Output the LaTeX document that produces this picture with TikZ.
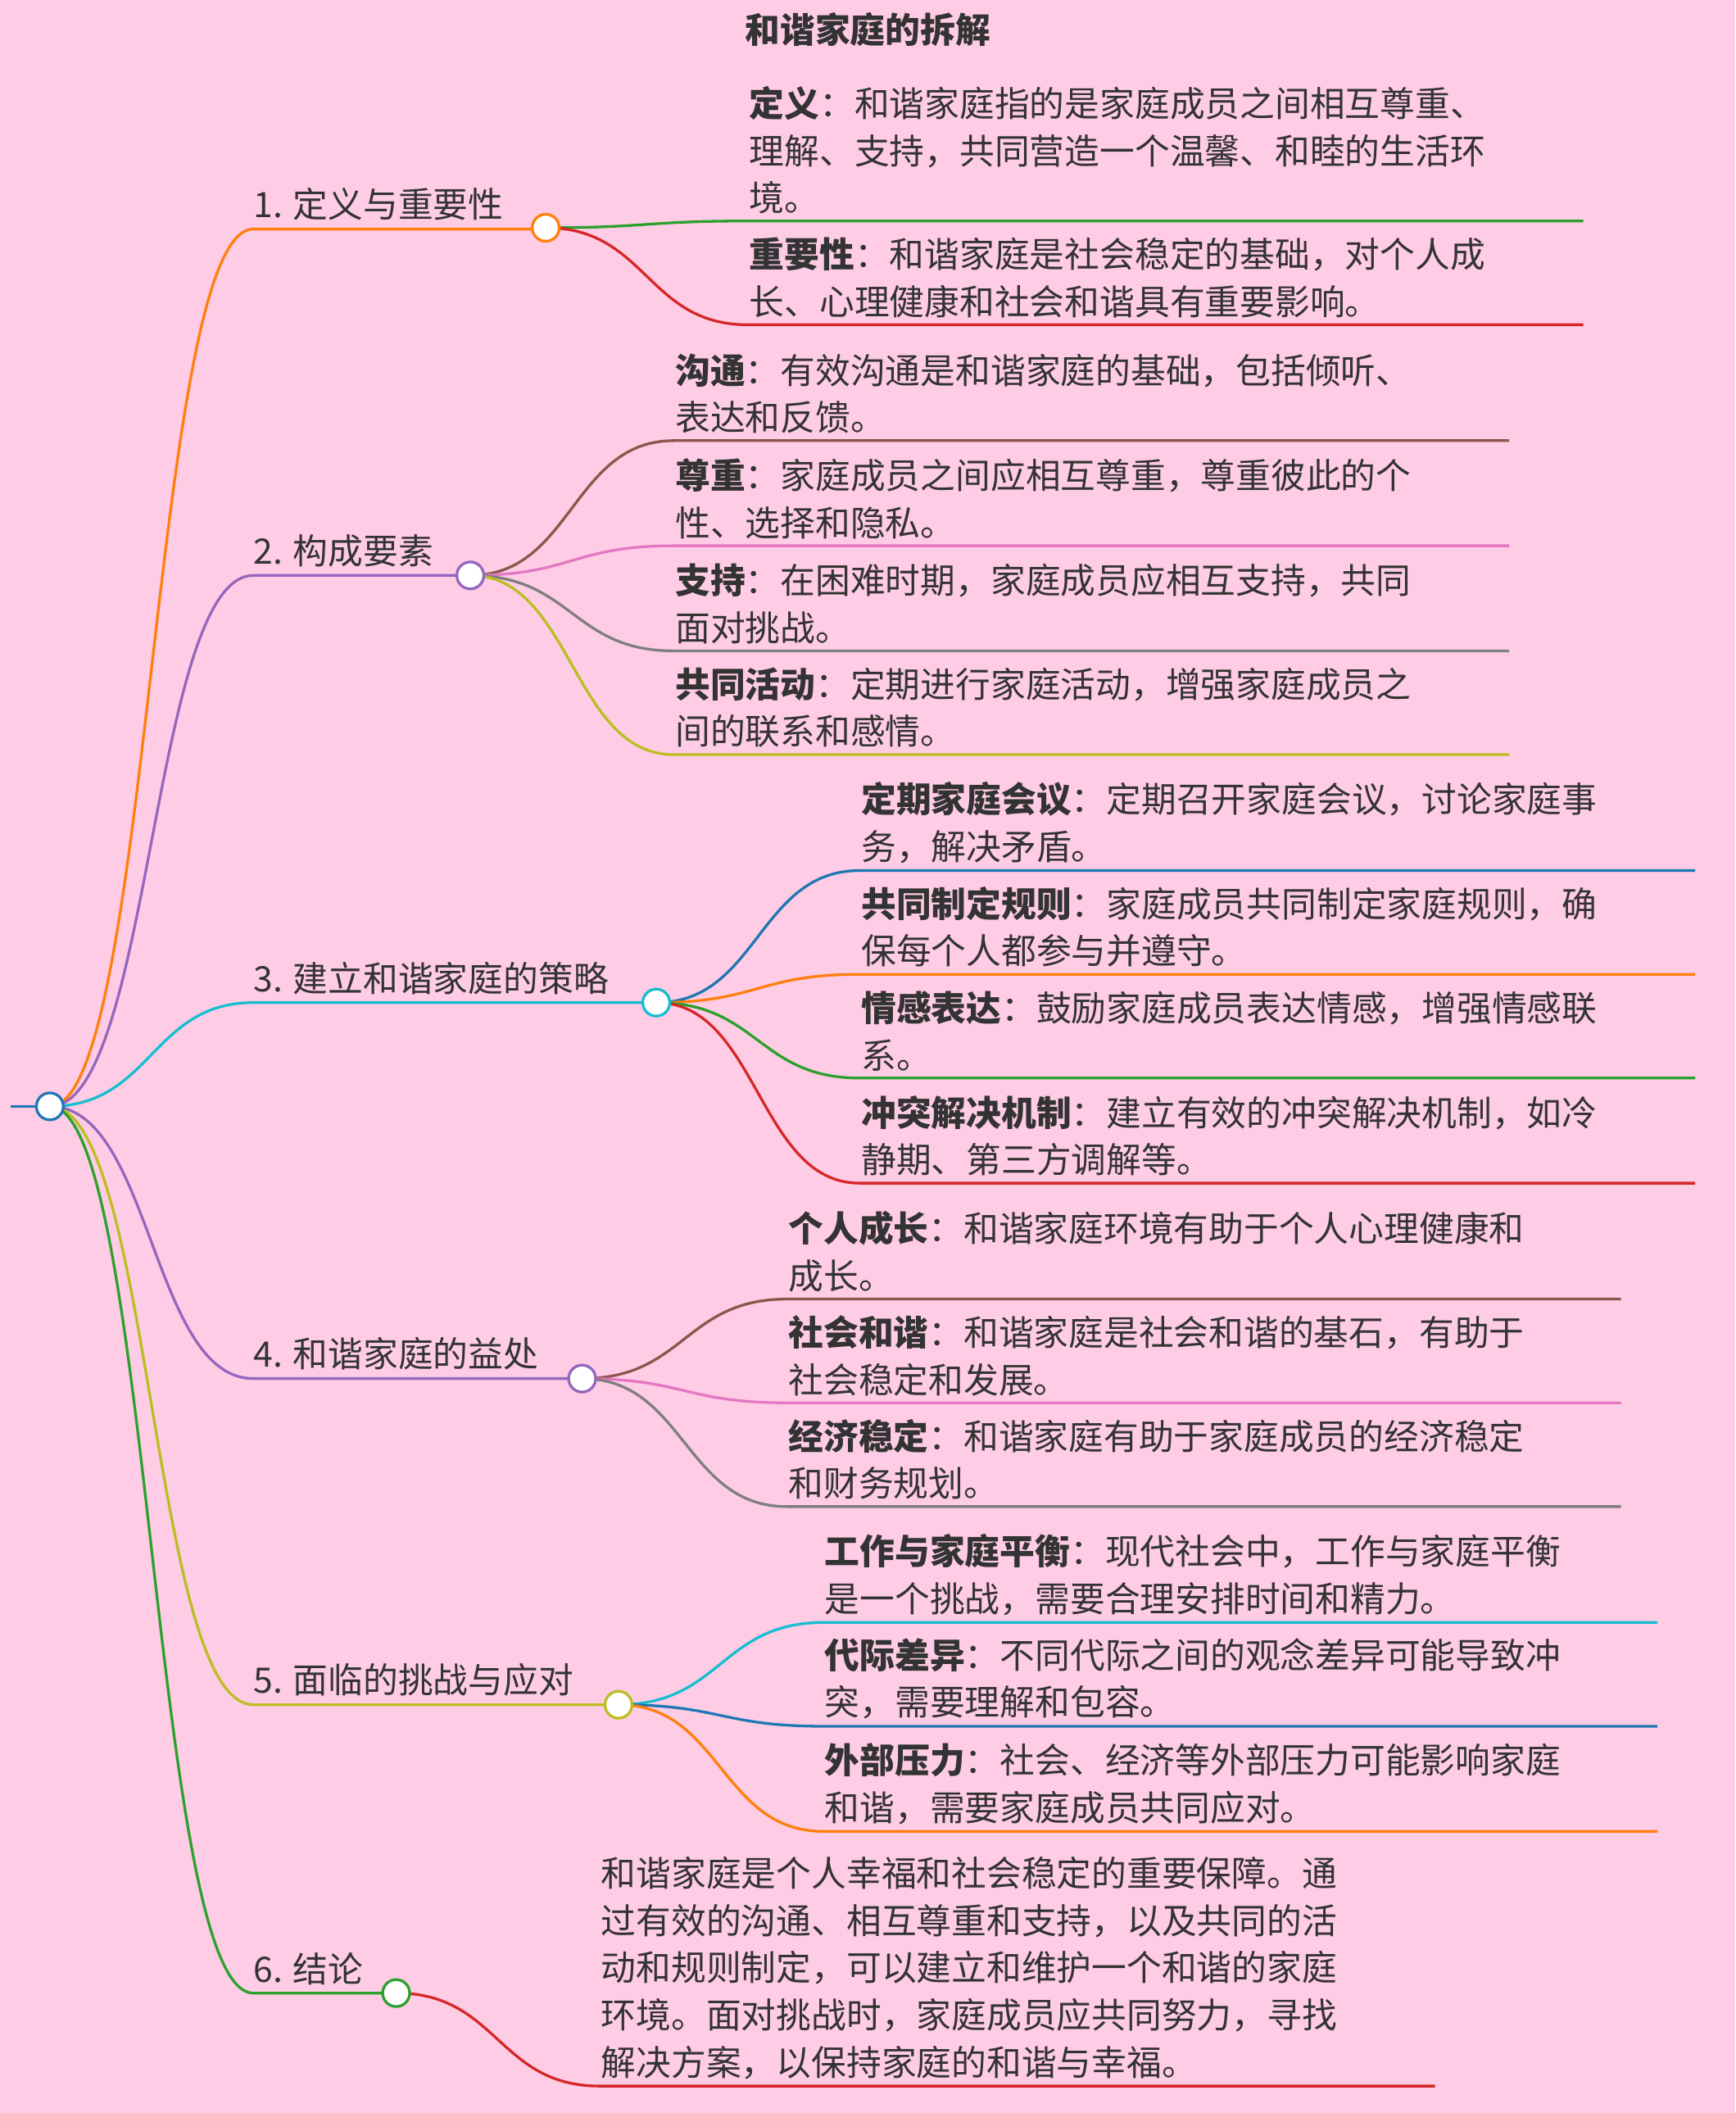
\documentclass[tikz,border=0pt]{standalone}
\usepackage{fontspec}
\setmainfont{Noto Sans CJK SC}
\definecolor{bg}{HTML}{FFCCE5}
\definecolor{tx}{HTML}{333333}
\definecolor{cor}{HTML}{FF7F0E}
\definecolor{cgr}{HTML}{2CA02C}
\definecolor{cre}{HTML}{D62728}
\definecolor{cpu}{HTML}{9467BD}
\definecolor{cbr}{HTML}{8C564B}
\definecolor{cpi}{HTML}{E377C2}
\definecolor{cga}{HTML}{7F7F7F}
\definecolor{col}{HTML}{BCBD22}
\definecolor{ccy}{HTML}{17BECF}
\definecolor{cbl}{HTML}{1F77B4}
\tikzset{
  txt/.style={anchor=south west,inner sep=0pt,align=left,text=tx,font=\fontsize{26}{35}\selectfont},
  br/.style={line width=2pt},
  dot/.style={circle,draw,line width=2pt,fill=white,minimum size=20pt,inner sep=0pt},
}
\newcommand{\cb}[6]{%
  \pgfmathsetmacro{\xm}{(#2+#4)/2}%
  \draw[br,#1] (#2,#3) .. controls (\xm,#3) and (\xm,#5) .. (#4,#5) -- (#6,#5);}
\begin{document}
\begin{tikzpicture}[x=1pt,y=-1pt]
\fill[bg] (0,0) rectangle (1288,1568);
\useasboundingbox (0,0) rectangle (1288,1568);
\node[anchor=center,text=tx,font=\fontsize{26}{30}\selectfont\bfseries] (title) at (644,22) {和谐家庭的拆解};
\draw[br,cbl] (8,821) -- (27,821);
\cb{cor}{37}{821}{188}{170}{394}
\cb{cpu}{37}{821}{188}{427}{339}
\cb{ccy}{37}{821}{188}{744}{477}
\cb{cpu}{37}{821}{188}{1023}{422}
\cb{col}{37}{821}{188}{1265}{449}
\cb{cgr}{37}{821}{188}{1479}{284}
\cb{cgr}{405}{169}{555}{164}{1175}
\cb{cre}{405}{169}{555}{241}{1175}
\cb{cbr}{349}{427}{500}{327}{1120}
\cb{cpi}{349}{427}{500}{405}{1120}
\cb{cga}{349}{427}{500}{483}{1120}
\cb{col}{349}{427}{500}{560}{1120}
\cb{cbl}{487}{744}{638}{646}{1258}
\cb{cor}{487}{744}{638}{723}{1258}
\cb{cgr}{487}{744}{638}{800}{1258}
\cb{cre}{487}{744}{638}{878}{1258}
\cb{cbr}{432}{1023}{584}{964}{1203}
\cb{cpi}{432}{1023}{584}{1041}{1203}
\cb{cga}{432}{1023}{584}{1118}{1203}
\cb{ccy}{459}{1265}{611}{1204}{1230}
\cb{cbl}{459}{1265}{611}{1281}{1230}
\cb{cor}{459}{1265}{611}{1359}{1230}
\cb{cre}{294}{1479}{445}{1548}{1065}
\node[dot,draw=cbl] (root) at (37,821) {};
\node[dot,draw=cor] (n1) at (405,169) {};
\node[dot,draw=cpu] (n2) at (349,427) {};
\node[dot,draw=ccy] (n3) at (487,744) {};
\node[dot,draw=cpu] (n4) at (432,1023) {};
\node[dot,draw=col] (n5) at (459,1265) {};
\node[dot,draw=cgr] (n6) at (294,1479) {};
\node[txt] (l1) at (188,164) {1. 定义与重要性};
\node[txt] (l2) at (188,421) {2. 构成要素};
\node[txt] (l3) at (188,738) {3. 建立和谐家庭的策略};
\node[txt] (l4) at (188,1017) {4. 和谐家庭的益处};
\node[txt] (l5) at (188,1259) {5. 面临的挑战与应对};
\node[txt] (l6) at (188,1473) {6. 结论};
\node[txt] (t11) at (556,159) {\textbf{定义}：和谐家庭指的是家庭成员之间相互尊重、\\理解、支持，共同营造一个温馨、和睦的生活环\\境。};
\node[txt] (t12) at (556,236) {\textbf{重要性}：和谐家庭是社会稳定的基础，对个人成\\长、心理健康和社会和谐具有重要影响。};
\node[txt] (t21) at (501,322) {\textbf{沟通}：有效沟通是和谐家庭的基础，包括倾听、\\表达和反馈。};
\node[txt] (t22) at (501,400) {\textbf{尊重}：家庭成员之间应相互尊重，尊重彼此的个\\性、选择和隐私。};
\node[txt] (t23) at (501,478) {\textbf{支持}：在困难时期，家庭成员应相互支持，共同\\面对挑战。};
\node[txt] (t24) at (501,555) {\textbf{共同活动}：定期进行家庭活动，增强家庭成员之\\间的联系和感情。};
\node[txt] (t31) at (639,641) {\textbf{定期家庭会议}：定期召开家庭会议，讨论家庭事\\务，解决矛盾。};
\node[txt] (t32) at (639,718) {\textbf{共同制定规则}：家庭成员共同制定家庭规则，确\\保每个人都参与并遵守。};
\node[txt] (t33) at (639,795) {\textbf{情感表达}：鼓励家庭成员表达情感，增强情感联\\系。};
\node[txt] (t34) at (639,873) {\textbf{冲突解决机制}：建立有效的冲突解决机制，如冷\\静期、第三方调解等。};
\node[txt] (t41) at (585,959) {\textbf{个人成长}：和谐家庭环境有助于个人心理健康和\\成长。};
\node[txt] (t42) at (585,1036) {\textbf{社会和谐}：和谐家庭是社会和谐的基石，有助于\\社会稳定和发展。};
\node[txt] (t43) at (585,1113) {\textbf{经济稳定}：和谐家庭有助于家庭成员的经济稳定\\和财务规划。};
\node[txt] (t51) at (612,1199) {\textbf{工作与家庭平衡}：现代社会中，工作与家庭平衡\\是一个挑战，需要合理安排时间和精力。};
\node[txt] (t52) at (612,1276) {\textbf{代际差异}：不同代际之间的观念差异可能导致冲\\突，需要理解和包容。};
\node[txt] (t53) at (612,1354) {\textbf{外部压力}：社会、经济等外部压力可能影响家庭\\和谐，需要家庭成员共同应对。};
\node[txt] (t61) at (446,1543) {和谐家庭是个人幸福和社会稳定的重要保障。通\\过有效的沟通、相互尊重和支持，以及共同的活\\动和规则制定，可以建立和维护一个和谐的家庭\\环境。面对挑战时，家庭成员应共同努力，寻找\\解决方案，以保持家庭的和谐与幸福。};
\end{tikzpicture}
\end{document}
